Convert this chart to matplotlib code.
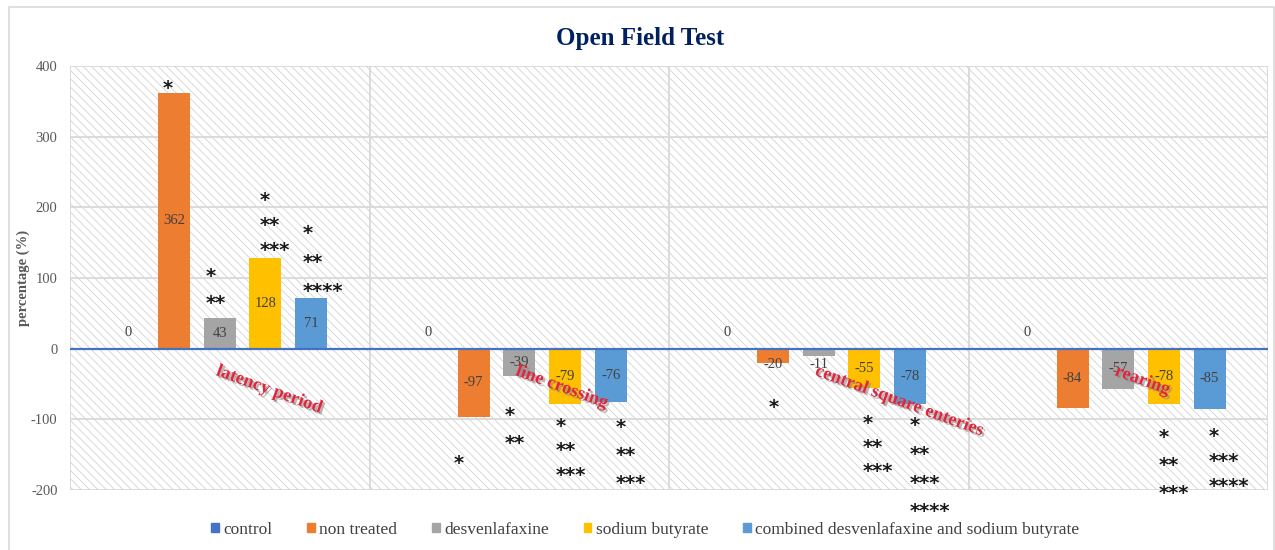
import numpy as np
import matplotlib
matplotlib.use("Agg")
import matplotlib.pyplot as plt
import matplotlib.patches as mpatches
import matplotlib.patheffects as pe
from matplotlib.lines import Line2D

categories = ["latency period", "line crossing", "central square enteries", "rearing"]
groups = ["control", "non treated", "desvenlafaxine", "sodium butyrate",
          "combined desvenlafaxine and sodium butyrate"]
control = [0, 0, 0, 0]
non_treated = [362, -97, -20, -84]
desvenlafaxine = [43, -39, -11, -57]
sodium_butyrate = [128, -79, -55, -78]
combined = [71, -76, -78, -85]
yticks = [-200, -100, 0, 100, 200, 300, 400]

# significance stars per bar, top line first
stars_control = [[], [], [], []]
stars_non_treated = [["*"], ["*"], ["*"], []]
stars_desvenlafaxine = [["*", "**"], ["*", "**"], [], []]
stars_sodium = [["*", "**", "***"], ["*", "**", "***"], ["*", "**", "***"], ["*", "**", "***"]]
stars_combined = [["*", "**", "****"], ["*", "**", "***"], ["*", "**", "***", "****"], ["*", "***", "****"]]

colors = ["#4472C4", "#ED7D31", "#A5A5A5", "#FFC000", "#5B9BD5"]

# star placement in pixels: (x shift from bar left, gap to bar end, line spacing)
star_layout = {
    (1, 0): (5, 10, 0), (1, 1): (-4, 40, 0), (1, 2): (12, 39, 0),
    (2, 0): (2, 21, 27), (2, 1): (1, 33, 28),
    (3, 0): (10, 14, 25), (3, 1): (7, 16, 24.5), (3, 2): (14, 30, 24), (3, 3): (11, 28, 28),
    (4, 0): (8, 12.5, 29), (4, 1): (21, 19, 28), (4, 2): (16, 16, 28.7), (4, 3): (15, 22, 25),
}

plt.rcParams["hatch.color"] = "#d2d2d2"
plt.rcParams["hatch.linewidth"] = 0.6

fig = plt.figure(figsize=(12.75, 5.5), dpi=100)
ax = fig.add_axes([70 / 1275, 60 / 550, 1198 / 1275, 424 / 550])

series = [control, non_treated, desvenlafaxine, sodium_butyrate, combined]
all_stars = [stars_control, stars_non_treated, stars_desvenlafaxine, stars_sodium, stars_combined]
x = np.arange(len(categories))
step = 0.1526
width = 0.107
px_per_unit = 424 / 600

# hatched plot area background
bg = mpatches.Rectangle((0, 0), 1, 1, transform=ax.transAxes, facecolor="white",
                        edgecolor="#d2d2d2", hatch="\\\\\\\\", lw=0, zorder=0)
ax.add_patch(bg)

serif = "Liberation Serif"
for j, vals in enumerate(series):
    xs = x + (j - 2) * step
    ax.bar(xs, vals, width, color=colors[j], zorder=2, label=groups[j])
    for i, v in enumerate(vals):
        if abs(v) * px_per_unit > 25:
            ax.text(xs[i], v / 2, str(v), ha="center", va="center", fontsize=10.5,
                    family=serif, color="#404040", zorder=4)
        else:
            off = 16 if v >= 0 else -16
            ax.annotate(str(v), (xs[i], 0), xytext=(0, off), textcoords="offset pixels",
                        ha="center", va="center", fontsize=10.5, family=serif,
                        color="#404040", zorder=4)
        lines = all_stars[j][i]
        if not lines:
            continue
        dx, gap, sp = star_layout[(j, i)]
        n = len(lines)
        for k, s in enumerate(lines):
            if v >= 0:
                center = gap + (n - 1 - k) * sp
            else:
                center = -(gap + k * sp)
            ax.annotate(s, (xs[i] - width / 2, v), xytext=(dx, center - 11.5),
                        textcoords="offset pixels", ha="left", va="baseline",
                        fontsize=14, family="DejaVu Sans", fontweight="bold",
                        color="#1a1a1a", zorder=5, annotation_clip=False)

ax.axhline(0, color="#4472C4", lw=1.6, zorder=3)

# category labels near the zero line
for i, c in enumerate(categories):
    ax.annotate(c, (x[i], 0), xytext=(0, -14), textcoords="offset pixels",
                ha="left", va="top", rotation=-20, rotation_mode="anchor",
                fontsize=13.2, family=serif, fontweight="bold", color="#E0263C", zorder=6,
                path_effects=[pe.withSimplePatchShadow(offset=(1.5, -1.5),
                                                       shadow_rgbFace="#888888", alpha=0.6)])

ax.set_xlim(-0.5, 3.5)
ax.set_ylim(-200, 400)
ax.set_yticks(yticks)
ax.set_yticklabels([str(t) for t in yticks], family=serif, fontsize=10.5, color="#595959")
ax.set_xticks([])
ax.set_xticks([-0.5, 0.5, 1.5, 2.5, 3.5], minor=True)
ax.tick_params(axis="both", which="both", length=0, pad=9)
ax.grid(axis="y", color="#d9d9d9", lw=1.3, zorder=1)
ax.grid(axis="x", which="minor", color="#d9d9d9", lw=1.3, zorder=1)
ax.set_axisbelow(True)
for sp_ in ax.spines.values():
    sp_.set_visible(False)

ax.set_ylabel("percentage (%)", family=serif, fontsize=10.5, fontweight="bold",
              color="#595959")
ax.yaxis.label.set_va("center")
ax.yaxis.set_label_coords((23 - 70) / 1198, 0.5)

fig.text(0.502, 1 - 38 / 550, "Open Field Test", ha="center", va="center",
         family=serif, fontsize=18, fontweight="bold", color="#002060")

handles = [mpatches.Patch(color=colors[j], label=groups[j]) for j in range(5)]
leg = fig.legend(handles=handles, loc="center", bbox_to_anchor=(0.506, 20 / 550), ncol=5,
                 frameon=False, handlelength=0.45, handleheight=0.45, handletextpad=0.25,
                 columnspacing=2.0, prop={"family": serif, "size": 12.5})
for t in leg.get_texts():
    t.set_color("#404040")

# chart border (left, top, right)
bx0, bx1, by1 = 8.5 / 1275, 1274 / 1275, 1 - 6.5 / 550
fig.add_artist(Line2D([bx0, bx0, bx1, bx1], [0, by1, by1, 0], transform=fig.transFigure,
                      color="#d9d9d9", lw=1.2))

fig.savefig("out.png", dpi=100)
